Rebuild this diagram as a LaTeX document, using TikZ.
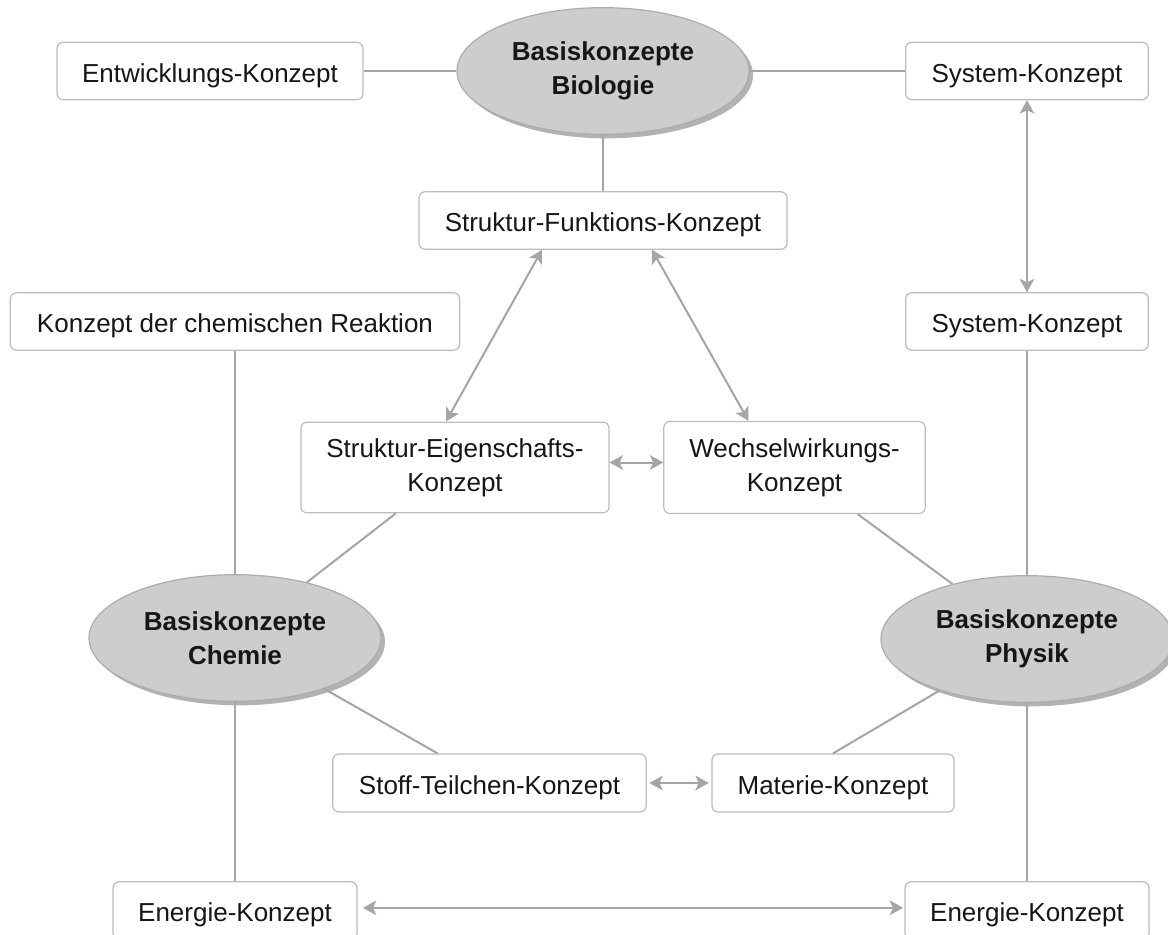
\documentclass[tikz,border=0pt]{standalone}
\usepackage{fontspec}
\setmainfont{Liberation Sans}
\usetikzlibrary{arrows.meta,shapes.geometric,shadows}

\definecolor{linegray}{RGB}{165,165,165}
\definecolor{boxgray}{RGB}{188,188,188}
\definecolor{ovalfill}{RGB}{205,205,205}
\definecolor{ovaldraw}{RGB}{172,172,172}
\definecolor{txtgray}{RGB}{22,22,22}

\begin{document}
\begin{tikzpicture}[x=0.75pt,y=0.75pt,yscale=-1,xscale=1,
  konzept/.style={draw=boxgray,line width=0.9pt,rounded corners=4.5pt,fill=white,inner sep=0pt,
    text=txtgray,font=\fontsize{19.5}{25.5}\selectfont,text height=16.5pt,text depth=0pt,minimum height=43pt},
  konzept2/.style={draw=boxgray,line width=0.9pt,rounded corners=4.5pt,fill=white,inner sep=0pt,
    text=txtgray,font=\fontsize{19.5}{25.5}\selectfont,align=center},
  basis/.style={ellipse,draw=ovaldraw,line width=0.9pt,fill=ovalfill,minimum width=219pt,minimum height=95pt,
    inner sep=0pt,align=center,text=txtgray,font=\fontsize{19.5}{25.5}\selectfont\bfseries,
    drop shadow={shadow xshift=3pt,shadow yshift=-3pt,opacity=0.3,fill=black}},
  link/.style={draw=linegray,line width=1.5pt},
  both/.style={link,{Stealth[length=10pt,width=11pt,inset=2.5pt]}-{Stealth[length=10pt,width=11pt,inset=2.5pt]}}
]
\useasboundingbox (0,0) rectangle (1168,935);

%Shape: Ellipse
\node[basis] (bio) at (603,71) {Basiskonzepte\\Biologie};
%Shape: Ellipse
\node[basis] (chem) at (235,638) {Basiskonzepte\\Chemie};
%Shape: Ellipse
\node[basis] (phys) at (1027,639) {Basiskonzepte\\Physik};

%Rounded Rect
\node[konzept,minimum width=229.5pt] (entw) at (210,71) {Entwicklungs-Konzept};
%Rounded Rect
\node[konzept,minimum width=182pt] (sys1) at (1027,71) {System-Konzept};
%Rounded Rect
\node[konzept,minimum width=276pt] (sf) at (603,220.5) {Struktur-Funktions-Konzept};
%Rounded Rect
\node[konzept,minimum width=337pt] (kdr) at (235,321.5) {Konzept der chemischen Reaktion};
%Rounded Rect
\node[konzept,minimum width=182pt] (sys2) at (1027,321.5) {System-Konzept};
%Rounded Rect
\node[konzept2,minimum width=231pt,minimum height=68pt] (se) at (455,467.5) {Struktur-Eigenschafts-\\Konzept};
%Rounded Rect
\node[konzept2,minimum width=196pt,minimum height=69pt] (ww) at (794.5,467.5) {Wechselwirkungs-\\Konzept};
%Rounded Rect
\node[konzept,minimum width=235pt,minimum height=43.5pt] (stoff) at (489.5,783) {Stoff-Teilchen-Konzept};
%Rounded Rect
\node[konzept,minimum width=181.5pt,minimum height=43.5pt] (mat) at (833,783) {Materie-Konzept};
%Rounded Rect
\node[konzept,minimum width=183pt] (en1) at (235,910.5) {Energie-Konzept};
%Rounded Rect
\node[konzept,minimum width=183pt] (en2) at (1027,910.5) {Energie-Konzept};

%Straight Lines
\draw[link] (entw) -- (bio);
\draw[link] (bio) -- (sys1);
\draw[link] (bio) -- (sf);
\draw[link] (kdr) -- (chem);
\draw[link] (chem) -- (en1);
\draw[link] (sys2) -- (phys);
\draw[link] (phys) -- (en2);
\draw[link] (se) -- (chem);
\draw[link] (ww) -- (phys);
\draw[link] (chem) -- (stoff);
\draw[link] (phys) -- (mat.north);

%Arrows
\draw[both] (sys1) -- (sys2);
\draw[both] ([xshift=-45.75pt]sf.south) -- ([xshift=-6.75pt]se.north);
\draw[both] ([xshift=36.75pt]sf.south) -- ([xshift=-34.5pt]ww.north);
\draw[both] ([yshift=-3.75pt]se.east) -- ([yshift=-3.75pt]ww.west);
\draw[both,shorten <=2pt,shorten >=2pt] (stoff) -- (mat);
\draw[both,shorten <=4pt,shorten >=1pt] ([yshift=-2pt]en1.east) -- ([yshift=-2pt]en2.west);

\end{tikzpicture}
\end{document}
